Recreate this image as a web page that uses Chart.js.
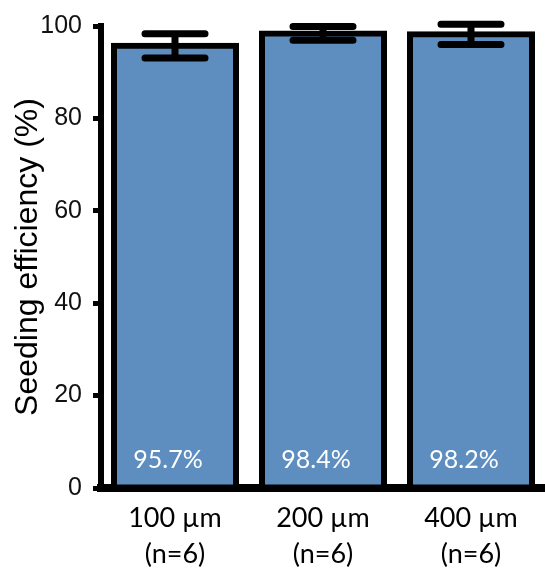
<!DOCTYPE html>
<html>
<head>
<meta charset="utf-8">
<script src="https://cdn.jsdelivr.net/npm/chart.js@4/dist/chart.umd.min.js"></script>
<style>
  html, body { margin: 0; padding: 0; background: #fff; }
  #wrap { width: 545px; height: 570px; }
</style>
</head>
<body>
<div id="wrap"><canvas id="barChart"></canvas></div>
<script>
const categories = [["100 µm", "(n=6)"], ["200 µm", "(n=6)"], ["400 µm", "(n=6)"]];
const efficiency = [95.7, 98.4, 98.2];
const errors = [2.6, 1.5, 2.2];
const yTicks = [0, 20, 40, 60, 80, 100];

// error bars + value labels inside the bars
const errorBars = {
  id: "errorBars",
  afterDatasetsDraw(chart) {
    const ctx = chart.ctx;
    const y = chart.scales.y;
    const meta = chart.getDatasetMeta(0);
    ctx.save();
    meta.data.forEach((bar, i) => {
      const hi = y.getPixelForValue(efficiency[i] + errors[i]);
      const lo = y.getPixelForValue(efficiency[i] - errors[i]);
      const x = bar.x;
      const half = 30;
      ctx.strokeStyle = "#000";
      ctx.lineWidth = 7;
      ctx.lineCap = "round";
      ctx.beginPath();
      ctx.moveTo(x, hi); ctx.lineTo(x, lo);
      ctx.moveTo(x - half, hi); ctx.lineTo(x + half, hi);
      ctx.moveTo(x - half, lo); ctx.lineTo(x + half, lo);
      ctx.stroke();

      ctx.fillStyle = "#fff";
      ctx.font = "25px Lato";
      ctx.textAlign = "center";
      ctx.textBaseline = "middle";
      ctx.fillText(efficiency[i].toFixed(1) + "%", x - 7, y.getPixelForValue(6));
    });
    ctx.restore();
  }
};

const canvas = document.getElementById("barChart");

new Chart(canvas, {
  type: "bar",
  data: {
    labels: categories,
    datasets: [
      {
        label: "Seeding efficiency",
        data: efficiency,
        backgroundColor: "#5e8ec0",
        borderColor: "#000",
        borderWidth: 6,
        borderSkipped: false,
        barThickness: 122,
        inflateAmount: 3,
      },
    ],
  },
  options: {
    responsive: true,
    maintainAspectRatio: false,
    animation: false,
    layout: { padding: { top: 24, left: 0, right: 0, bottom: 0 } },
    plugins: {
      legend: { display: false },
      tooltip: { enabled: false },
    },
    scales: {
      x: {
        afterFit: (s) => { s.height = 82; },
        border: { display: true, color: "#000", width: 8 },
        grid: { display: false, drawTicks: false },
        ticks: {
          padding: 12,
          color: "#000",
          font: { family: "Lato", size: 27, lineHeight: 1.35 },
        },
      },
      y: {
        min: 0,
        max: 100,
        afterFit: (s) => { s.width = 101; },
        afterBuildTicks: (s) => { s.ticks = yTicks.map((v) => ({ value: v })); },
        border: { display: true, color: "#000", width: 6 },
        grid: { drawOnChartArea: false, drawTicks: true, tickLength: 8, tickWidth: 5, tickColor: "#000" },
        ticks: {
          padding: 11,
          color: "#111",
          font: { family: "Liberation Sans", size: 25 },
        },
        title: {
          display: true,
          text: "Seeding efficiency (%)",
          color: "#000",
          font: { family: "Liberation Sans", size: 32 },
          padding: { top: 9, bottom: 0 },
        },
      },
    },
  },
  plugins: [errorBars],
});
</script>
</body>
</html>
